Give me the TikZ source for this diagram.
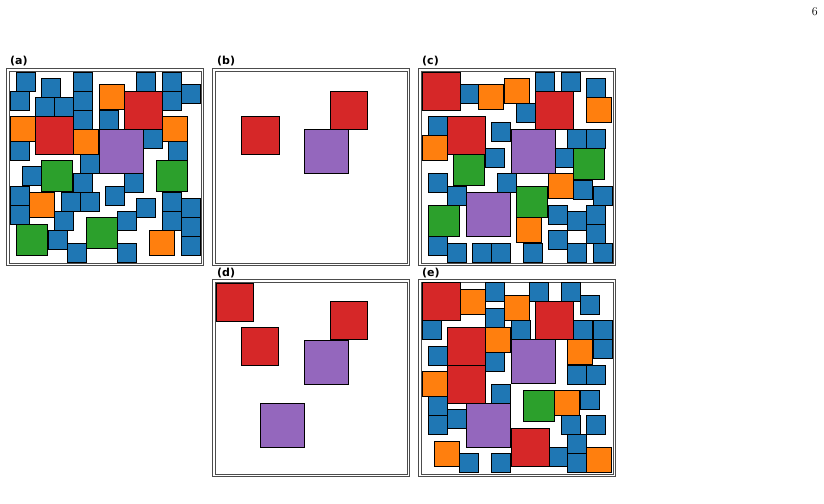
\documentclass[tikz,border=0pt]{standalone}
\usepackage{fontspec}
\newfontfamily\lblfont{DejaVu Sans}
\definecolor{cb}{HTML}{1F77B4}
\definecolor{co}{HTML}{FF7F0E}
\definecolor{cg}{HTML}{2CA02C}
\definecolor{cr}{HTML}{D62728}
\definecolor{cp}{HTML}{9467BD}
\tikzset{sqb/.style={draw=black,line width=0.6pt,fill=cb},
sqo/.style={draw=black,line width=0.6pt,fill=co},
sqg/.style={draw=black,line width=0.6pt,fill=cg},
sqr/.style={draw=black,line width=0.6pt,fill=cr},
sqp/.style={draw=black,line width=0.6pt,fill=cp},
frame/.style={draw=black!70,line width=0.6pt},
lbl/.style={font=\lblfont\bfseries\fontsize{11}{13}\selectfont,anchor=base west,inner sep=0}}
\begin{document}
\begin{tikzpicture}[x=1pt,y=-1pt]
\useasboundingbox (0,0) rectangle (824,503);
\node[anchor=north east,inner sep=0,font=\fontsize{12}{14}\selectfont] (pg) at (818,7) {6};
% frames
\foreach \dx/\dy in {0/0,206/0,412/0,206/211,412/211}{
 \draw[frame] (6+\dx,68+\dy) rectangle (203+\dx,265+\dy);
 \draw[frame] (9+\dx,71+\dy) rectangle (201+\dx,263+\dy);
}
\node[lbl] (la) at (10,65) {(a)};
\node[lbl] (lb) at (217,65) {(b)};
\node[lbl] (lc) at (422,65) {(c)};
\node[lbl] (ld) at (217,276) {(d)};
\node[lbl] (le) at (422,276) {(e)};
% panel a
\foreach \x/\y in {16.7/72,41.7/78.3,73.3/72,136.7/72,162.3/72,181.7/84.7,10/91,35.7/97.3,54.7/97.3,73.3/91,162.3/91,73.3/110,99/110,10/141.7,143.3/129,168.3/141.7,80/154.3,22.7/166.7,73.3/173.3,124.3/173.3,105/186,10/186,10/205,61/192.3,80/192.3,136.7/198.3,162.3/192.3,181.7/198.3,54.7/211.7,117.7/211.7,162.3/211.7,181.7/217.7,48.3/230.7,67.3/243.3,117.7/243.3,181.7/236.7}
 \draw[sqb] (\x,\y) rectangle ++(19,19);
\foreach \x/\y in {99/84.7,10/116.3,73.3/129,162.3/116.3,29.3/192.3,149.3/230.7}
 \draw[sqo] (\x,\y) rectangle ++(25,25);
\foreach \x/\y in {41.7/160.7,156/160.7,16.7/224.3,86.3/217.7}
 \draw[sqg] (\x,\y) rectangle ++(31,31);
\foreach \x/\y in {124.3/91,35.7/116.3}
 \draw[sqr] (\x,\y) rectangle ++(38,38);
\draw[sqp] (99,129) rectangle ++(44,44);
% panel b
\draw[sqr] (241,116) rectangle ++(38,38);
\draw[sqr] (330,91) rectangle ++(37,38);
\draw[sqp] (304,129) rectangle ++(44,44);
% panel c
\foreach \x/\y in {460.3/84.7,535.7/72,561/72,586.7/78.3,516.7/103.7,428/116.3,491.3/122.7,567.3/129,586.7/129,485/148,554.7/148,428/173.3,497.7/173.3,573.7/180,593/186,447.7/186,548.3/205,567.3/211.7,586.7/205,586.7/224.3,548.3/230.7,428/236.7,447.7/243.3,472.7/243.3,491.3/243.3,523.3/243.3,567.3/243.3,593/243.3}
 \draw[sqb] (\x,\y) rectangle ++(19,19);
\foreach \x/\y in {478.7/84.7,504/78.3,586.7/97.3,422/135.3,548.3/173.3,516.7/217.7}
 \draw[sqo] (\x,\y) rectangle ++(25,25);
\foreach \x/\y in {453.7/154.3,573.7/148,516.7/186,428/205}
 \draw[sqg] (\x,\y) rectangle ++(31,31);
\foreach \x/\y in {422/72,535.7/91,447.7/116.3}
 \draw[sqr] (\x,\y) rectangle ++(38,38);
\foreach \x/\y in {511/129,466.3/192.3}
 \draw[sqp] (\x,\y) rectangle ++(44,44);
% panel d
\foreach \x/\y in {216/283,241/327,330/301}
 \draw[sqr] (\x,\y) rectangle ++(37,38);
\foreach \x/\y in {304/340,260/403}
 \draw[sqp] (\x,\y) rectangle ++(44,44);
% panel e
\foreach \x/\y in {485/282.7,529.7/282.7,561/282.7,580.3/295.3,485/308,422/320.7,511/320.7,573.7/320.7,593/320.7,593/339.7,428/346,485/352.3,567.3/365,586.7/365,491.3/384,580.3/390,428/396.7,428/415.7,447.7/409.3,561/415.7,586.7/415.7,567.3/434.7,548.3/447.3,567.3/453.7,459.7/453.7,491.3/453.7}
 \draw[sqb] (\x,\y) rectangle ++(19,19);
\foreach \x/\y in {460.3/289,504.7/295.3,485/327,567.3/339.7,422/371.3,554.7/390,434.7/441,586.7/447.3}
 \draw[sqo] (\x,\y) rectangle ++(25,25);
\draw[sqg] (523.3,390) rectangle ++(31,31);
\foreach \x/\y in {422/282.7,535.7/301.7,447.7/327,447.7/365,511/428}
 \draw[sqr] (\x,\y) rectangle ++(38,38);
\foreach \x/\y in {511/339.7,466.3/403}
 \draw[sqp] (\x,\y) rectangle ++(44,44);
\end{tikzpicture}
\end{document}
